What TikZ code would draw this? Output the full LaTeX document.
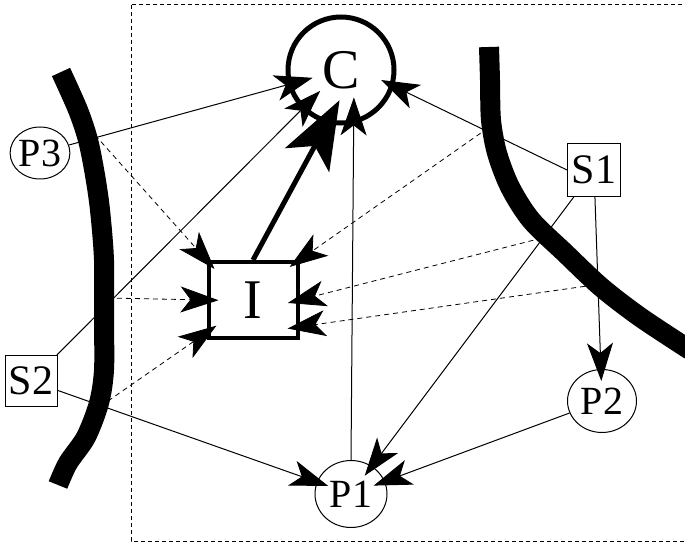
\documentclass[tikz,border=0pt]{standalone}
\usepackage{fontspec}
\setmainfont{Liberation Serif}
\usetikzlibrary{arrows.meta,shapes.geometric}

\tikzset{
  place/.style = {ellipse, draw, line width=0.5pt, inner sep=0pt, font=\fontsize{20}{20}\selectfont},
  source/.style = {rectangle, draw, line width=0.5pt, inner sep=0pt, font=\fontsize{21}{21}\selectfont},
  link/.style = {-{Stealth[length=19pt,width=13pt,inset=5pt]}, line width=0.5pt, shorten >=-6pt},
  walllink/.style = {link, dash pattern=on 2.5pt off 2pt, line width=0.4pt},
  wall/.style = {line width=10pt, line cap=butt},
}

\begin{document}
\begin{tikzpicture}[x=0.5pt,y=-0.5pt]
\useasboundingbox (0,0) rectangle (685,545);
\draw[dash pattern=on 2pt off 1.5pt, line width=0.5pt] (131,5) rectangle (700,541);

\node[circle, minimum size=41pt, inner sep=0pt, font=\fontsize{28}{28}\selectfont] (C) at (341,70) {C};
\draw[line width=2.5pt] (C.center) circle[radius=26.5pt];

\node[rectangle, draw, line width=2pt, minimum width=44.5pt, minimum height=38pt, inner sep=0pt, font=\fontsize{28}{28}\selectfont] (I) at (253,300) {I};

\node[place, minimum width=28pt, minimum height=26pt] (P3) at (40,153) {P3};
\node[place, minimum width=36pt, minimum height=33.5pt] (P1) at (351,494) {P1};
\node[place, minimum width=34.5pt, minimum height=31.5pt] (P2) at (602,401) {P2};
\node[source, minimum size=26.5pt] (S1) at (594,170) {S1};
\node[source, minimum width=26pt, minimum height=25.5pt] (S2) at (31,381) {S2};

\coordinate (wa) at (95,135);
\coordinate (wb) at (108,298);
\coordinate (wc) at (108,401);
\coordinate (wd) at (488,128);
\coordinate (we) at (542,238);
\coordinate (wf) at (594,285);

\draw[link] (P3) -- (C);
\draw[link] (S2) -- (C);
\draw[link] (S2) -- (P1);
\draw[link, shorten >=0pt] (S1.west) -- (C.-14);
\draw[link] (S1) -- (P1);
\draw[link] (S1) -- (P2);
\draw[link] (P2) -- (P1);
\draw[link] (P1.north) -- (C.-72);
\draw[line width=2.5pt, -{Stealth[length=34pt,width=25pt,inset=8pt]}, shorten >=-6pt] (I.north) -- (C.-100);

\draw[walllink] (wa) -- (I.north west);
\draw[walllink] (wb) -- (I.west);
\draw[walllink] (wc) -- (I.215);
\draw[walllink] (wd) -- (I.north east);
\draw[walllink] (we) -- (I.east);
\draw[walllink] (wf) -- (I.-30);

\draw[wall] plot[smooth] coordinates {(61,72) (78,110) (88,140) (95,175) (100,210) (104,260) (104,320) (104,370) (99,403) (86,437) (68,463) (58,485)};
\draw[wall] plot[smooth] coordinates {(489,47) (490,80) (491,120) (497,153) (510,187) (531,220) (565,253) (601,287) (640,317) (690,350)};

\end{tikzpicture}
\end{document}
